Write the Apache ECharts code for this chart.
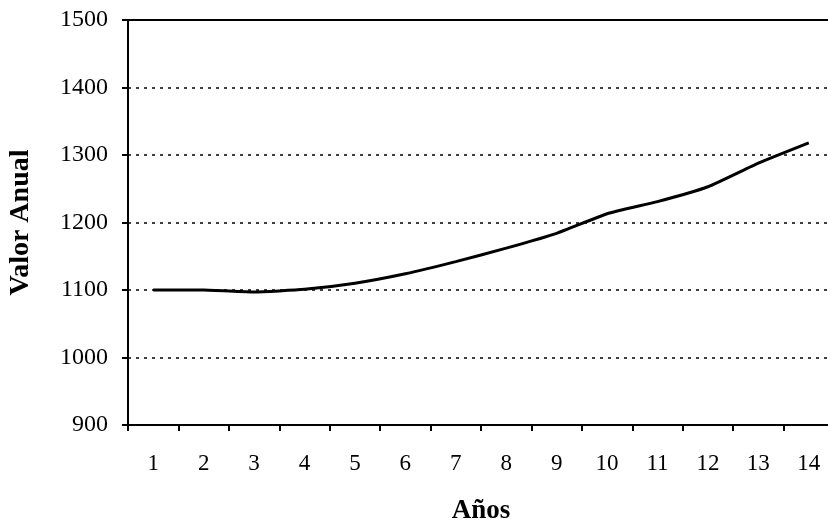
<!DOCTYPE html>
<html>
<head>
<meta charset="utf-8">
<script src="https://cdn.jsdelivr.net/npm/echarts@6/dist/echarts.min.js"></script>
<style>
  html, body { margin: 0; padding: 0; background: #fff; }
  #main { width: 828px; height: 523px; }
</style>
</head>
<body>
<div id="main"></div>
<script>
// años y valor anual
const years = ['1', '2', '3', '4', '5', '6', '7', '8', '9', '10', '11', '12', '13', '14'];
const valorAnual = [1100, 1100, 1097, 1101, 1110, 1124, 1142, 1162, 1184, 1213, 1231, 1253, 1288, 1318];

let chart = echarts.init(document.getElementById('main'));
const font = 'Liberation Serif';

chart.setOption({
    backgroundColor: '#fff',
    animation: false,
    grid: {
        left: 128,
        right: -6,
        top: 20,
        bottom: 98,
        containLabel: false,
        outerBoundsMode: 'none'
    },
    xAxis: [{
        type: 'category',
        data: years,
        boundaryGap: true,
        name: 'Años',
        nameLocation: 'middle',
        nameGap: 73,
        nameTextStyle: { fontFamily: font, fontSize: 27, fontWeight: 'bold', color: '#000' },
        axisLine: { lineStyle: { color: '#000', width: 2 } },
        axisTick: { show: true, length: 6, lineStyle: { color: '#000', width: 2 } },
        axisLabel: { fontFamily: font, fontSize: 23, color: '#000', margin: 27 },
        splitLine: { show: false }
    }, {
        // borde superior
        type: 'category',
        data: years,
        position: 'top',
        axisLine: { lineStyle: { color: '#000', width: 2 } },
        axisTick: { show: false },
        axisLabel: { show: false }
    }],
    yAxis: {
        type: 'value',
        min: 900,
        max: 1500,
        interval: 100,
        name: 'Valor Anual',
        nameLocation: 'middle',
        nameGap: 93,
        nameTextStyle: { fontFamily: font, fontSize: 28, fontWeight: 'bold', color: '#000' },
        axisLine: { show: true, lineStyle: { color: '#000', width: 2 } },
        axisTick: { show: true, length: 6, lineStyle: { color: '#000', width: 2 } },
        axisLabel: {
            fontFamily: font, fontSize: 24, color: '#000', margin: 20,
            formatter: function (v) { return String(v); }
        },
        splitLine: { show: true, lineStyle: { color: '#000', type: [3, 5], width: 1.5 } }
    },
    series: [{
        type: 'line',
        data: valorAnual,
        symbol: 'none',
        smooth: 0.15,
        lineStyle: { color: '#000', width: 3 }
    }]
});
</script>
</body>
</html>
